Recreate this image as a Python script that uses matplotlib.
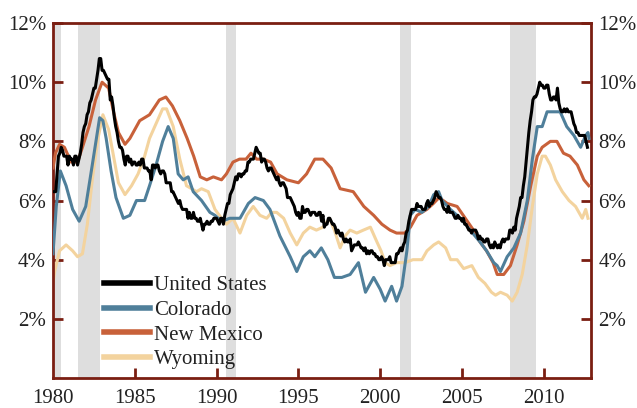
import matplotlib
matplotlib.use('Agg')
import matplotlib.pyplot as plt
import numpy as np

plt.rcParams.update({'font.family': ['Liberation Serif', 'DejaVu Serif'], 'font.size': 15})

# --- US unemployment rate, monthly, Jan 1980 - Sep 2012 ---
us_monthly = [
    6.3, 6.3, 6.3, 6.9, 7.5, 7.6, 7.8, 7.7, 7.5, 7.5, 7.5, 7.2,
    7.5, 7.4, 7.4, 7.2, 7.5, 7.5, 7.2, 7.4, 7.6, 7.9, 8.3, 8.5,
    8.6, 8.9, 9.0, 9.3, 9.4, 9.6, 9.8, 9.8, 10.1, 10.4, 10.8, 10.8,
    10.4, 10.4, 10.3, 10.2, 10.1, 10.1, 9.4, 9.5, 9.2, 8.8, 8.5, 8.3,
    8.0, 7.8, 7.8, 7.7, 7.4, 7.2, 7.5, 7.5, 7.3, 7.4, 7.2, 7.3,
    7.3, 7.2, 7.2, 7.3, 7.2, 7.4, 7.4, 7.1, 7.1, 7.1, 7.0, 7.0,
    6.7, 7.2, 7.2, 7.1, 7.2, 7.2, 7.0, 6.9, 7.0, 7.0, 6.9, 6.6,
    6.6, 6.6, 6.6, 6.3, 6.3, 6.2, 6.1, 6.0, 5.9, 6.0, 5.8, 5.7,
    5.7, 5.7, 5.7, 5.4, 5.6, 5.4, 5.4, 5.6, 5.4, 5.4, 5.3, 5.3,
    5.4, 5.2, 5.0, 5.2, 5.2, 5.3, 5.2, 5.2, 5.3, 5.3, 5.4, 5.4,
    5.4, 5.3, 5.2, 5.4, 5.4, 5.2, 5.5, 5.7, 5.9, 5.9, 6.2, 6.3,
    6.4, 6.6, 6.8, 6.7, 6.9, 6.9, 6.8, 6.9, 6.9, 7.0, 7.0, 7.3,
    7.3, 7.4, 7.4, 7.4, 7.6, 7.8, 7.7, 7.6, 7.6, 7.3, 7.4, 7.4,
    7.3, 7.1, 7.0, 7.1, 7.1, 7.0, 6.9, 6.8, 6.7, 6.8, 6.6, 6.5,
    6.6, 6.6, 6.5, 6.4, 6.1, 6.1, 6.1, 6.0, 5.9, 5.8, 5.6, 5.5,
    5.6, 5.4, 5.4, 5.8, 5.6, 5.6, 5.7, 5.7, 5.6, 5.5, 5.6, 5.6,
    5.6, 5.5, 5.5, 5.6, 5.6, 5.3, 5.5, 5.1, 5.2, 5.2, 5.4, 5.4,
    5.3, 5.2, 5.2, 5.1, 4.9, 5.0, 4.9, 4.8, 4.9, 4.7, 4.6, 4.7,
    4.6, 4.6, 4.7, 4.3, 4.4, 4.5, 4.5, 4.5, 4.6, 4.5, 4.4, 4.4,
    4.3, 4.4, 4.2, 4.3, 4.2, 4.3, 4.3, 4.2, 4.2, 4.1, 4.1, 4.0,
    4.0, 4.1, 4.0, 3.8, 4.0, 4.0, 4.0, 4.1, 3.9, 3.9, 3.9, 3.9,
    4.2, 4.2, 4.3, 4.4, 4.3, 4.5, 4.6, 4.9, 5.0, 5.3, 5.5, 5.7,
    5.7, 5.7, 5.7, 5.9, 5.8, 5.8, 5.8, 5.7, 5.7, 5.7, 5.9, 6.0,
    5.8, 5.9, 5.9, 6.0, 6.1, 6.3, 6.2, 6.1, 6.1, 6.0, 5.8, 5.7,
    5.7, 5.6, 5.8, 5.6, 5.6, 5.6, 5.5, 5.4, 5.4, 5.5, 5.4, 5.4,
    5.3, 5.4, 5.2, 5.2, 5.1, 5.0, 5.0, 4.9, 5.0, 5.0, 5.0, 4.9,
    4.7, 4.8, 4.7, 4.7, 4.6, 4.6, 4.7, 4.7, 4.5, 4.4, 4.5, 4.4,
    4.6, 4.5, 4.4, 4.5, 4.4, 4.6, 4.7, 4.6, 4.7, 4.7, 4.7, 5.0,
    5.0, 4.9, 5.1, 5.0, 5.4, 5.6, 5.8, 6.1, 6.1, 6.5, 6.8, 7.3,
    7.8, 8.3, 8.7, 9.0, 9.4, 9.5, 9.5, 9.6, 9.8, 10.0, 9.9, 9.9,
    9.8, 9.8, 9.9, 9.9, 9.6, 9.4, 9.4, 9.5, 9.5, 9.4, 9.8, 9.3,
    9.1, 9.0, 9.0, 9.1, 9.0, 9.1, 9.0, 9.0, 9.0, 8.8, 8.6, 8.5,
    8.3, 8.3, 8.2, 8.2, 8.2, 8.2, 8.2, 8.0, 7.8,
]

# --- state rates (year, %) ---
co_years = [1980.0, 1980.2, 1980.45, 1980.8, 1981.2, 1981.6, 1982.0, 1982.4, 1982.85, 1983.05,
            1983.25, 1983.55, 1983.85, 1984.3, 1984.7, 1985.1, 1985.6, 1985.9, 1986.3, 1986.7,
            1987.04, 1987.35, 1987.65, 1987.96, 1988.26, 1988.57, 1989.08, 1989.59, 1989.9, 1990.3,
            1990.8, 1991.43, 1991.94, 1992.35, 1992.86, 1993.26, 1993.87, 1994.5, 1994.9, 1995.3,
            1995.7, 1996.0, 1996.4, 1996.8, 1997.2, 1997.65, 1998.16, 1998.67, 1999.1, 1999.6,
            2000.0, 2000.3, 2000.7, 2001.0, 2001.33, 2001.63, 2001.84, 2002.14, 2002.55, 2002.96,
            2003.27, 2003.57, 2003.78, 2004.29, 2004.9, 2005.5, 2006.1, 2006.5, 2006.94, 2007.15,
            2007.35, 2007.76, 2008.17, 2008.58, 2008.99, 2009.3, 2009.6, 2009.9, 2010.2, 2010.6,
            2011.0, 2011.4, 2011.84, 2012.25, 2012.56, 2012.7, 2012.76]
co_vals = [4.2, 5.8, 7.0, 6.5, 5.7, 5.3, 5.8, 7.2, 8.8, 8.7,
           8.1, 7.0, 6.1, 5.4, 5.5, 6.0, 6.0, 6.5, 7.2, 8.0,
           8.5, 8.1, 6.9, 6.7, 6.8, 6.3, 6.0, 5.6, 5.5, 5.3,
           5.4, 5.4, 5.9, 6.1, 6.0, 5.7, 4.8, 4.1, 3.6, 4.1,
           4.3, 4.1, 4.4, 4.0, 3.4, 3.4, 3.5, 3.9, 2.9, 3.4,
           3.0, 2.6, 3.1, 2.6, 3.1, 4.3, 5.5, 5.7, 5.6, 5.8,
           6.2, 6.3, 6.0, 5.7, 5.4, 5.0, 4.6, 4.3, 3.9, 3.8,
           3.6, 4.1, 4.4, 4.9, 6.0, 7.4, 8.5, 8.5, 9.0, 9.0,
           9.0, 8.5, 8.2, 7.8, 8.2, 8.3, 8.1]

nm_years = [1980.0, 1980.15, 1980.4, 1980.7, 1981.1, 1981.5, 1981.8, 1982.2, 1982.6, 1983.0,
            1983.4, 1983.7, 1984.0, 1984.4, 1984.7, 1985.3, 1985.9, 1986.5, 1986.9, 1987.3,
            1987.75, 1988.2, 1988.6, 1989.0, 1989.4, 1989.8, 1990.3, 1990.6, 1991.0, 1991.4,
            1991.8, 1992.1, 1992.45, 1992.85, 1993.3, 1993.7, 1994.3, 1995.0, 1995.5, 1996.0,
            1996.5, 1997.0, 1997.55, 1998.35, 1999.0, 1999.6, 2000.1, 2000.6, 2001.0, 2001.5,
            2001.85, 2002.25, 2002.85, 2003.25, 2003.6, 2004.1, 2004.7, 2005.2, 2005.7, 2006.1,
            2006.5, 2006.9, 2007.15, 2007.55, 2007.96, 2008.37, 2008.78, 2009.2, 2009.6, 2009.9,
            2010.4, 2010.8, 2011.2, 2011.6, 2012.05, 2012.45, 2012.75]
nm_vals = [7.1, 7.6, 7.9, 7.8, 7.3, 7.3, 7.8, 8.5, 9.4, 10.0,
           9.8, 9.0, 8.3, 7.9, 8.1, 8.7, 8.9, 9.4, 9.5, 9.2,
           8.7, 8.1, 7.5, 6.8, 6.7, 6.8, 6.7, 6.9, 7.3, 7.4,
           7.4, 7.6, 7.4, 7.4, 7.3, 6.9, 6.7, 6.6, 6.9, 7.4,
           7.4, 7.1, 6.4, 6.3, 5.8, 5.5, 5.2, 5.0, 4.9, 4.9,
           5.1, 5.5, 5.7, 5.9, 6.1, 5.9, 5.8, 5.4, 5.0, 4.6,
           4.3, 3.9, 3.5, 3.5, 3.8, 4.5, 5.3, 6.5, 7.5, 7.8,
           8.0, 8.0, 7.6, 7.5, 7.2, 6.7, 6.5]

wy_years = [1980.0, 1980.1, 1980.4, 1980.8, 1981.2, 1981.5, 1981.8, 1982.1, 1982.4, 1982.75,
            1983.05, 1983.4, 1983.7, 1984.0, 1984.4, 1984.8, 1985.2, 1985.6, 1985.9, 1986.3,
            1986.7, 1986.94, 1987.35, 1987.75, 1988.16, 1988.47, 1988.77, 1989.08, 1989.49, 1989.9,
            1990.3, 1990.6, 1991.0, 1991.43, 1991.84, 1992.24, 1992.65, 1993.06, 1993.37, 1993.67,
            1994.1, 1994.5, 1994.9, 1995.3, 1995.7, 1996.1, 1996.5, 1996.9, 1997.2, 1997.55,
            1997.85, 1998.16, 1998.57, 1998.97, 1999.4, 1999.8, 2000.05, 2000.3, 2000.6, 2001.0,
            2001.5, 2002.0, 2002.55, 2002.86, 2003.27, 2003.57, 2004.0, 2004.3, 2004.7, 2005.1,
            2005.6, 2006.0, 2006.4, 2006.8, 2007.05, 2007.35, 2007.76, 2008.07, 2008.37, 2008.68,
            2008.99, 2009.3, 2009.6, 2009.9, 2010.1, 2010.4, 2010.72, 2011.13, 2011.54, 2011.94,
            2012.35, 2012.56, 2012.7]
wy_vals = [3.2, 3.6, 4.3, 4.5, 4.3, 4.1, 4.2, 5.2, 6.7, 8.1,
           8.9, 8.4, 7.5, 6.6, 6.2, 6.5, 6.9, 7.5, 8.1, 8.6,
           9.1, 9.1, 8.5, 7.4, 6.5, 6.4, 6.3, 6.4, 6.3, 5.7,
           5.4, 5.2, 5.4, 4.9, 5.5, 5.8, 5.5, 5.4, 5.6, 5.6,
           5.4, 4.9, 4.5, 4.9, 5.1, 5.0, 5.1, 5.4, 5.0, 4.4,
           4.8, 5.0, 4.9, 5.0, 5.1, 4.6, 4.3, 3.9, 3.8, 3.9,
           3.9, 4.0, 4.0, 4.3, 4.5, 4.6, 4.4, 4.0, 4.0, 3.7,
           3.8, 3.4, 3.2, 2.9, 2.8, 2.9, 2.8, 2.6, 2.9, 3.5,
           4.5, 5.8, 6.9, 7.5, 7.5, 7.2, 6.7, 6.3, 6.0, 5.8,
           5.4, 5.7, 5.4]

# NBER recessions (start, end)
recessions = [(1980.0, 1980.5), (1981.5, 1982.9), (1990.55, 1991.2),
              (2001.2, 2001.9), (2007.95, 2009.5)]

series_names = ['United States', 'Colorado', 'New Mexico', 'Wyoming']
series_colors = ['#000000', '#4f7f9a', '#c8613a', '#f3d39e']
frame_color = '#7a1e12'

fig = plt.figure(figsize=(6.37, 4.08), dpi=100)
ax = fig.add_axes([0.0832, 0.0735, 0.845, 0.870])

for a, b in recessions:
    ax.axvspan(a, b, color='#dedede', lw=0, zorder=0)

us_years = 1980 + np.arange(len(us_monthly)) / 12.0
ax.plot(wy_years, wy_vals, color=series_colors[3], lw=2.2, zorder=2, label=series_names[3])
ax.plot(nm_years, nm_vals, color=series_colors[2], lw=2.2, zorder=3, label=series_names[2])
ax.plot(co_years, co_vals, color=series_colors[1], lw=2.2, zorder=4, label=series_names[1])
ax.plot(us_years, us_monthly, color=series_colors[0], lw=2.2, zorder=5, label=series_names[0])

ax.set_xlim(1980, 2012.9)
ax.set_ylim(0, 12)
ax.set_xticks([1980, 1985, 1990, 1995, 2000, 2005, 2010])
ax.set_yticks([2, 4, 6, 8, 10, 12])
ax.set_yticklabels([f'{v}%' for v in [2, 4, 6, 8, 10, 12]])

for s in ax.spines.values():
    s.set_color(frame_color)
    s.set_linewidth(2)
ax.tick_params(axis='both', direction='in', length=7, width=2, color=frame_color,
               labelcolor='#222222', labelsize=15)
ax.tick_params(axis='y', left=True, right=True, labelleft=True, labelright=True, pad=5)
ax.tick_params(axis='x', pad=8)
# keep the 1980 tick off the spine
ax.xaxis.get_major_ticks()[0].tick1line.set_visible(False)

handles, labels = ax.get_legend_handles_labels()
order = [3, 2, 1, 0]
leg = ax.legend([handles[i] for i in order], [labels[i] for i in order],
                loc='upper left', bbox_to_anchor=(0.095, 0.288), frameon=False,
                borderaxespad=0, borderpad=0, handlelength=2.2, handletextpad=0.2,
                labelspacing=0.24, fontsize=15)
for ln in leg.get_lines():
    ln.set_linewidth(4)
for t in leg.get_texts():
    t.set_color('#222222')

plt.savefig('out.png', dpi=100)
